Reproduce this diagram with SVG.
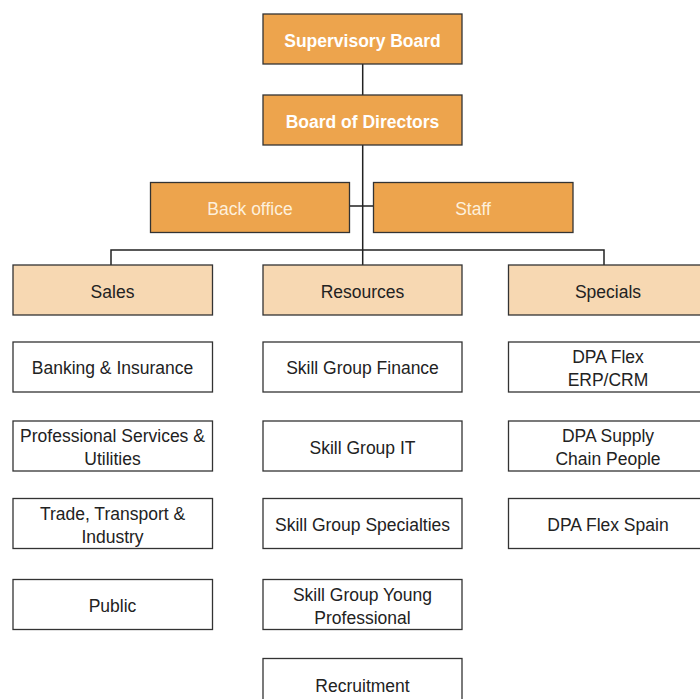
<svg xmlns="http://www.w3.org/2000/svg" width="700" height="699" viewBox="0 0 700 699">
<style>
rect{stroke:#333;stroke-width:1.3}
.o{fill:#eda44d}
.l{fill:#f7d8b2}
.w{fill:#fff}
text{font-family:"Liberation Sans",Arial,sans-serif;font-size:17.5px;fill:#222;text-anchor:middle}
.b{font-weight:bold;fill:#fff;font-size:17.5px}
.c{fill:#fdf0dc}
.conn{stroke:#222;stroke-width:1.5;fill:none}
</style>
<rect width="700" height="699" fill="#fff" style="stroke:none"/>
<g id="connectors" class="conn">
<path d="M362.7 64V95M362.7 145V265M349.7 206H373.3M111 265V250H604V265"/>
</g>
<g id="supervisory-board"><rect class="o" x="263" y="14" width="199" height="50"/><text class="b" x="362.5" y="47">Supervisory Board</text></g>
<g id="board-of-directors"><rect class="o" x="263" y="95" width="199" height="50"/><text class="b" x="362.5" y="128">Board of Directors</text></g>
<g id="back-office"><rect class="o" x="150.5" y="182.5" width="199" height="50"/><text class="c" x="250" y="215">Back office</text></g>
<g id="staff"><rect class="o" x="373.5" y="182.5" width="199.5" height="50"/><text class="c" x="473" y="215">Staff</text></g>
<g id="sales"><rect class="l" x="13" y="265" width="199.5" height="50"/><text x="112.5" y="298">Sales</text></g>
<g id="resources"><rect class="l" x="263" y="265" width="199" height="50"/><text x="362.5" y="298">Resources</text></g>
<g id="specials"><rect class="l" x="508.5" y="265" width="199.5" height="50"/><text x="608" y="298">Specials</text></g>
<g id="banking"><rect class="w" x="13" y="342" width="199.5" height="50"/><text x="112.5" y="374">Banking &amp; Insurance</text></g>
<g id="professional"><rect class="w" x="13" y="421" width="199.5" height="50"/><text x="112.5" y="442">Professional Services &amp;</text><text x="112.5" y="465">Utilities</text></g>
<g id="trade"><rect class="w" x="13" y="498.5" width="199.5" height="50"/><text x="112.5" y="520">Trade, Transport &amp;</text><text x="112.5" y="543">Industry</text></g>
<g id="public"><rect class="w" x="13" y="579.5" width="199.5" height="50"/><text x="112.5" y="612">Public</text></g>
<g id="sg-finance"><rect class="w" x="263" y="342" width="199" height="50"/><text x="362.5" y="374">Skill Group Finance</text></g>
<g id="sg-it"><rect class="w" x="263" y="421" width="199" height="50"/><text x="362.5" y="454">Skill Group IT</text></g>
<g id="sg-specialties"><rect class="w" x="263" y="498.5" width="199" height="50"/><text x="362.5" y="531">Skill Group Specialties</text></g>
<g id="sg-young"><rect class="w" x="263" y="579.5" width="199" height="50"/><text x="362.5" y="601">Skill Group Young</text><text x="362.5" y="624">Professional</text></g>
<g id="recruitment"><rect class="w" x="263" y="658.5" width="199" height="50"/><text x="362.5" y="692">Recruitment</text></g>
<g id="dpa-erp"><rect class="w" x="508.5" y="342" width="199.5" height="50"/><text x="608" y="363">DPA Flex</text><text x="608" y="386">ERP/CRM</text></g>
<g id="dpa-supply"><rect class="w" x="508.5" y="421" width="199.5" height="50"/><text x="608" y="442">DPA Supply</text><text x="608" y="465">Chain People</text></g>
<g id="dpa-spain"><rect class="w" x="508.5" y="498.5" width="199.5" height="50"/><text x="608" y="531">DPA Flex Spain</text></g>
</svg>
